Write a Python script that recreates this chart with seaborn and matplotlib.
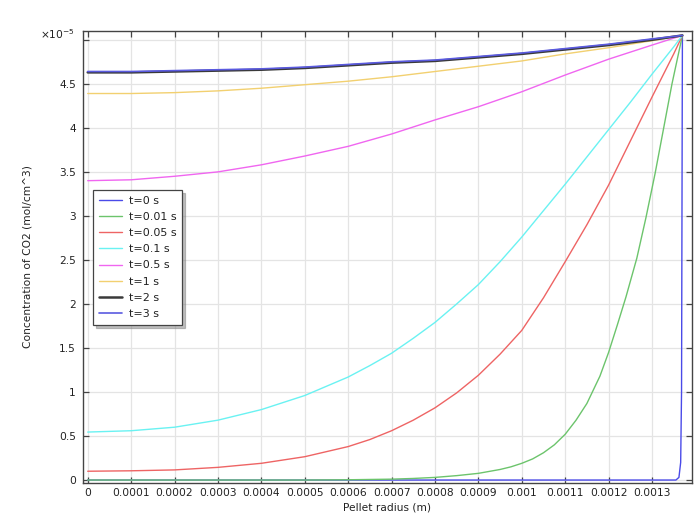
import matplotlib
matplotlib.use("Agg")
import matplotlib.pyplot as plt
import numpy as np
import pandas as pd
import seaborn as sns

# Radial CO2 concentration profiles in the pellet, values in units of 1e-5 mol/cm^3
R_STD = [0, 0.0001, 0.0002, 0.0003, 0.0004, 0.0005, 0.0006, 0.0007,
         0.0008, 0.0009, 0.0010, 0.0011, 0.0012, 0.0013, 0.00137]

r_t0 = [0, 0.0010, 0.001355, 0.001362, 0.001366, 0.001368, 0.00137]
c_t0 = [0, 0, 0, 0.03, 0.2, 1.0, 5.05]

r_t001 = [0, 0.0005, 0.0006, 0.0007, 0.00075, 0.0008, 0.00085, 0.0009, 0.00095,
          0.000975, 0.0010, 0.001025, 0.00105, 0.001075, 0.0011, 0.001125,
          0.00115, 0.00118, 0.0012, 0.00122, 0.00124, 0.001265, 0.001286,
          0.001307, 0.001325, 0.001346, 0.00137]
c_t001 = [0, 0, 0.003, 0.01, 0.018, 0.03, 0.05, 0.076, 0.12,
          0.15, 0.19, 0.24, 0.31, 0.40, 0.52, 0.68,
          0.87, 1.18, 1.45, 1.76, 2.08, 2.52, 2.98,
          3.48, 3.95, 4.5, 5.05]

r_t005 = [0, 0.0001, 0.0002, 0.0003, 0.0004, 0.0005, 0.0006, 0.00065, 0.0007,
          0.00075, 0.0008, 0.00085, 0.0009, 0.00095, 0.0010, 0.00105, 0.0011,
          0.00115, 0.0012, 0.00125, 0.0013, 0.00135, 0.00137]
c_t005 = [0.10, 0.105, 0.115, 0.144, 0.19, 0.265, 0.38, 0.46, 0.56,
          0.68, 0.82, 0.99, 1.19, 1.43, 1.70, 2.07, 2.48,
          2.90, 3.35, 3.85, 4.35, 4.84, 5.05]

r_t01 = [0, 0.0001, 0.0002, 0.0003, 0.0004, 0.0005, 0.0006, 0.00065, 0.0007,
         0.00075, 0.0008, 0.00085, 0.0009, 0.00095, 0.0010, 0.00105, 0.0011,
         0.00115, 0.0012, 0.00125, 0.0013, 0.00135, 0.00137]
c_t01 = [0.545, 0.56, 0.60, 0.68, 0.80, 0.96, 1.17, 1.30, 1.44,
         1.61, 1.79, 2.0, 2.22, 2.48, 2.76, 3.06, 3.36,
         3.67, 3.98, 4.29, 4.61, 4.92, 5.05]

c_t05 = [3.40, 3.41, 3.45, 3.50, 3.58, 3.68, 3.79, 3.93,
         4.09, 4.24, 4.41, 4.60, 4.78, 4.94, 5.05]
c_t1 = [4.39, 4.39, 4.40, 4.42, 4.45, 4.49, 4.53, 4.58,
        4.64, 4.70, 4.76, 4.84, 4.91, 4.99, 5.05]
c_t2 = [4.63, 4.63, 4.64, 4.65, 4.66, 4.68, 4.71, 4.74,
        4.76, 4.80, 4.84, 4.89, 4.94, 5.00, 5.05]
c_t3 = [4.64, 4.64, 4.65, 4.66, 4.67, 4.69, 4.72, 4.75,
        4.77, 4.81, 4.85, 4.90, 4.95, 5.01, 5.05]

labels = ["t=0 s", "t=0.01 s", "t=0.05 s", "t=0.1 s", "t=0.5 s",
          "t=1 s", "t=2 s", "t=3 s"]
radii = [r_t0, r_t001, r_t005, r_t01, R_STD, R_STD, R_STD, R_STD]
concs = [c_t0, c_t001, c_t005, c_t01, c_t05, c_t1, c_t2, c_t3]

colors = ["#4a4ae8", "#6cc46c", "#ee6464", "#6af2f2", "#f066f0",
          "#f2d070", "#3a3a3a", "#5a5ae0"]
widths = [1.0, 1.0, 1.0, 1.0, 1.0, 1.0, 1.8, 1.2]

x_ticks = [i * 0.0001 for i in range(14)]
x_ticklabels = ["0"] + [f"{v:.4f}".rstrip("0") for v in x_ticks[1:]]
y_ticks = [i * 0.5 for i in range(11)]
y_ticklabels = ["0", "0.5", "1", "1.5", "2", "2.5", "3", "3.5", "4", "4.5", ""]

sns.set_style("white")
plt.rcParams["font.family"] = ["DejaVu Sans"]
plt.rcParams["mathtext.default"] = "regular"

fig = plt.figure(figsize=(6.95, 5.15), dpi=100)
ax = fig.add_axes([0.119, 0.0631, 0.876, 0.8767])

for lab, r, c, col, lw in zip(labels, radii, concs, colors, widths):
    df = pd.DataFrame({"r": r, "c": c})
    sns.lineplot(data=df, x="r", y="c", ax=ax, color=col, linewidth=lw,
                 label=lab, estimator=None, sort=False)

ax.set_xlim(-0.0000115, 0.001391)
ax.set_ylim(-0.028, 5.10)
ax.set_xticks(x_ticks)
ax.set_xticklabels(x_ticklabels)
ax.set_yticks(y_ticks)
ax.set_yticklabels(y_ticklabels)

ax.grid(True, color="#e4e4e4", linewidth=0.9)
ax.set_axisbelow(True)
for s in ax.spines.values():
    s.set_color("#444444")
    s.set_linewidth(1.0)
ax.tick_params(direction="in", length=4, width=0.9, color="#444444",
               top=True, right=True, bottom=True, left=True,
               labelsize=7.7, labelcolor="#222222")
ax.tick_params(axis="x", pad=4)
ax.tick_params(axis="y", pad=5)

ax.set_xlabel("Pellet radius (m)", fontsize=7.7, color="#222222", labelpad=3)
ax.set_ylabel("Concentration of CO2 (mol/cm^3)", fontsize=7.7,
              color="#222222", labelpad=19)
fig.text(0.107, 0.934, r"$\times 10^{-5}$", ha="right", va="center",
         fontsize=7.7, color="#222222")

leg = ax.legend(loc="upper left", bbox_to_anchor=(0.017, 0.648), borderaxespad=0,
                fontsize=8, frameon=True, fancybox=False,
                shadow={"shade": 0.5, "alpha": 0.5},
                handlelength=2.1, handletextpad=0.55, labelspacing=0.55,
                borderpad=0.55)
leg.get_frame().set_edgecolor("#444444")
leg.get_frame().set_linewidth(0.9)
for t in leg.get_texts():
    t.set_color("#222222")

fig.savefig("out.png", dpi=100)
